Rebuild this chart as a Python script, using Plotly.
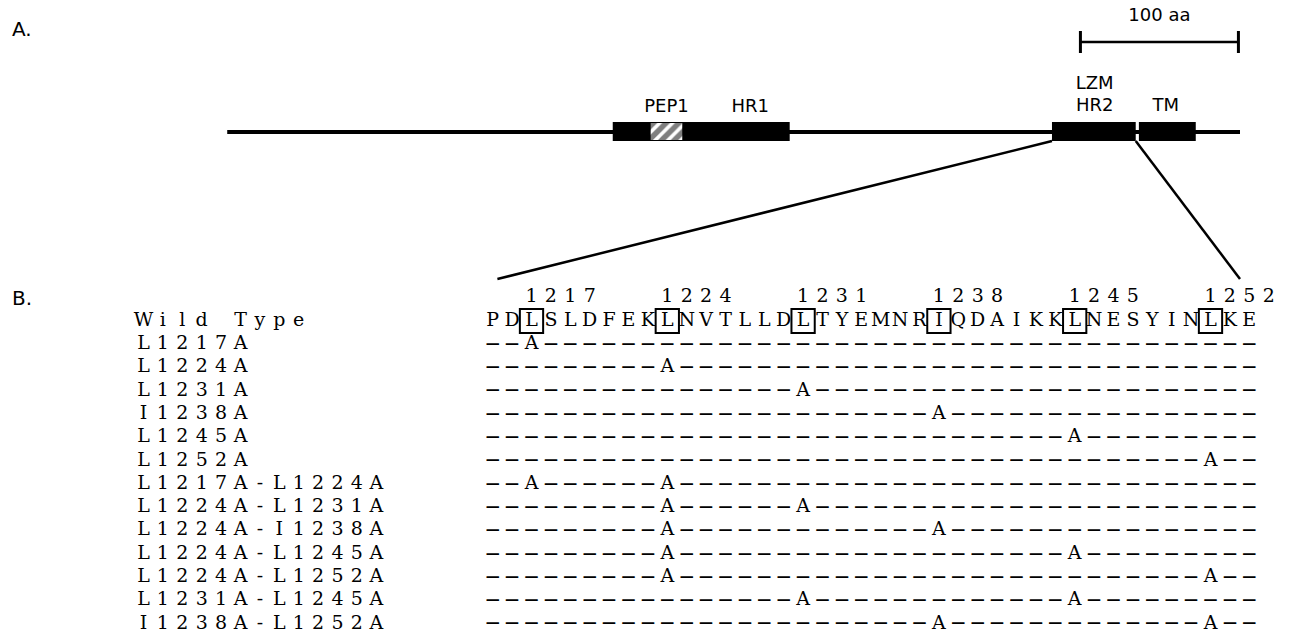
import plotly.graph_objects as go

# ---------------- Panel A data (amino-acid units) ----------------
protein_span = [683, 1324]
domain_starts = [927, 1205, 1260]      # HR1 block (with PEP1), HR2, TM
domain_ends = [1039, 1258, 1296]
pep1_span = [951, 971]
scale_bar_span = [1223, 1323]          # 100 aa
zoom_from = [1205, 1258]               # HR2 ends that open into panel B
zoom_to = [854, 1324]

domain_label_text = ["PEP1", "HR1", "LZM", "HR2", "TM"]
domain_label_aa = [961, 1014, 1232, 1232, 1277]
scale_label = "100 aa"

# ---------------- Panel B data (sequence) ----------------
first_residue = 1215
wild_type = "PDLSLDFEKLNVTLLDLTYEMNRIQDAIKKLNESYINLKE"
heptad_residues = [1217, 1224, 1231, 1238, 1245, 1252]
wt_label = "Wild Type"
mutants = ["L1217A", "L1224A", "L1231A", "I1238A", "L1245A", "L1252A",
           "L1217A-L1224A", "L1224A-L1231A", "L1224A-I1238A", "L1224A-L1245A",
           "L1224A-L1252A", "L1231A-L1245A", "I1238A-L1252A"]

# ---------------- layout scales ----------------
W, H = 1289, 636
px_per_aa, aa_anchor, px_anchor = 1.58, 1324, 1240
aa_range = [aa_anchor - px_anchor / px_per_aa, aa_anchor + (W - px_anchor) / px_per_aa]
col0_px, col_pitch = 492.7, 19.4
col_range = [-col0_px / col_pitch, (W - col0_px) / col_pitch]
row0_px, row_pitch = 321, 23.3
row_range = [(H - row0_px) / row_pitch, -row0_px / row_pitch]
label_col0 = -18

Y_LINE, BOX_TOP, BOX_BOT = 132, 122, 141
SEQ_FONT = "DejaVu Serif"
SANS = "DejaVu Sans"

fig = go.Figure()
A = dict(xaxis="x", yaxis="y", hoverinfo="skip", showlegend=False)
B = dict(xaxis="x2", yaxis="y2", hoverinfo="skip", showlegend=False)

# backbone
fig.add_trace(go.Scatter(x=protein_span, y=[Y_LINE, Y_LINE], mode="lines",
                         line=dict(color="black", width=4), **A))
# domain boxes
for s, e in zip(domain_starts, domain_ends):
    fig.add_trace(go.Scatter(x=[s, e, e, s, s], y=[BOX_TOP, BOX_TOP, BOX_BOT, BOX_BOT, BOX_TOP],
                             mode="lines", fill="toself", fillcolor="black",
                             line=dict(width=0, color="black"), **A))
# PEP1 hatched
s, e = pep1_span
fig.add_trace(go.Scatter(x=[s, e, e, s, s], y=[BOX_TOP + 1, BOX_TOP + 1, BOX_BOT - 1, BOX_BOT - 1, BOX_TOP + 1],
                         mode="lines", fill="toself", fillcolor="white",
                         fillpattern=dict(shape="/", fgcolor="black", bgcolor="white", size=9, solidity=0.6),
                         line=dict(width=0, color="white"), **A))
# scale bar
s, e = scale_bar_span
fig.add_trace(go.Scatter(x=[s, e], y=[42, 42], mode="lines", line=dict(color="black", width=2.5), **A))
fig.add_trace(go.Scatter(x=[s, s, None, e, e], y=[31, 53, None, 31, 53], mode="lines",
                         line=dict(color="black", width=3), **A))
# zoom connectors
fig.add_trace(go.Scatter(x=[zoom_from[0], zoom_to[0], None, zoom_from[1], zoom_to[1]],
                         y=[BOX_BOT, 279, None, BOX_BOT, 279], mode="lines",
                         line=dict(color="black", width=2.5), **A))
# domain labels
fig.add_trace(go.Scatter(x=domain_label_aa + [sum(scale_bar_span) / 2],
                         y=[107, 107, 84, 106, 106, 16], mode="text",
                         text=domain_label_text + [scale_label], textposition="middle center",
                         textfont=dict(family=SANS, size=18, color="black"), **A))

# ---------------- Panel B ----------------
def chars_at(text, col_start, row):
    xs, ys, ts = [], [], []
    for k, ch in enumerate(text):
        if ch == " ":
            continue
        xs.append(col_start + k)
        ys.append(row)
        ts.append(ch)
    return xs, ys, ts

lx, ly, lt = [], [], []
# header residue numbers
for r in heptad_residues:
    x, y, t = chars_at(str(r), r - first_residue, -1)
    lx += x; ly += y; lt += t
# wild type
x, y, t = chars_at(wt_label, label_col0, 0); lx += x; ly += y; lt += t
x, y, t = chars_at(wild_type, 0, 0); lx += x; ly += y; lt += t

dx, dy = [], []
for i, name in enumerate(mutants):
    row = i + 1
    x, y, t = chars_at(name, label_col0, row); lx += x; ly += y; lt += t
    mutated = [int(p[1:-1]) - first_residue for p in name.split("-")]
    for c in range(len(wild_type)):
        if c in mutated:
            lx.append(c); ly.append(row); lt.append("A")
        else:
            dx.append(c); dy.append(row)

fig.add_trace(go.Scatter(x=lx, y=ly, text=lt, mode="text", textposition="middle center",
                         textfont=dict(family=SEQ_FONT, size=19, color="black"), **B))
fig.add_trace(go.Scatter(x=dx, y=dy, text=["\u2014"] * len(dx), mode="text", textposition="middle center",
                         textfont=dict(family=SANS, size=14, color="black", weight="bold"), **B))

# boxes around heptad residues
for r in heptad_residues:
    c = r - first_residue
    fig.add_shape(type="rect", xref="x2", yref="y2", x0=c - 0.6, x1=c + 0.6, y0=-0.52, y1=0.52,
                  line=dict(color="black", width=2), fillcolor="rgba(0,0,0,0)")

# panel letters
for txt, yy in [("A.", 29), ("B.", 298)]:
    fig.add_annotation(text=txt, xref="paper", yref="paper", x=10 / W, y=1 - yy / H,
                       xanchor="left", yanchor="middle", showarrow=False,
                       font=dict(family=SANS, size=20, color="black"))

ax_off = dict(visible=False, showgrid=False, zeroline=False, fixedrange=True)
fig.update_layout(
    width=W, height=H, margin=dict(l=0, r=0, t=0, b=0),
    paper_bgcolor="white", plot_bgcolor="white", showlegend=False,
    xaxis=dict(range=aa_range, domain=[0, 1], **ax_off),
    yaxis=dict(range=[H, 0], domain=[0, 1], **ax_off),
    xaxis2=dict(range=col_range, overlaying="x", **ax_off),
    yaxis2=dict(range=row_range, overlaying="y", **ax_off),
)

fig.write_html("out.html", config={"displayModeBar": False},
               post_script="document.body.style.margin='0';")
